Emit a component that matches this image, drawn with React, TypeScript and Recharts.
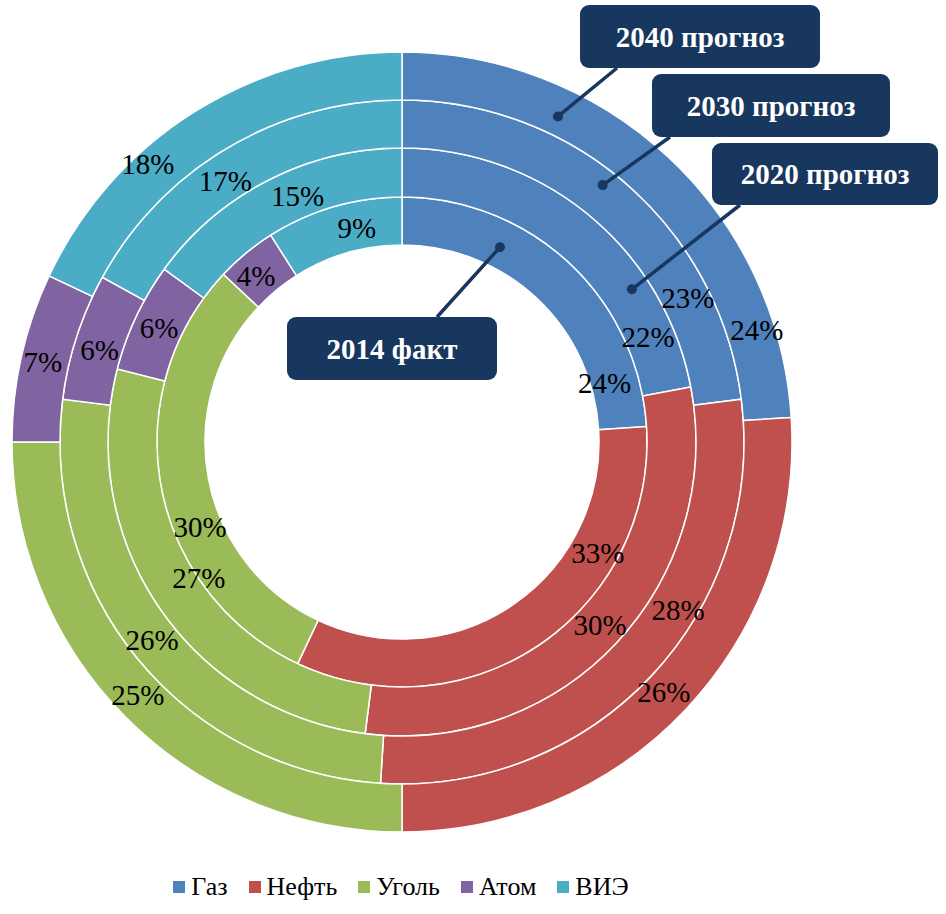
import React from 'react';
import { PieChart, Pie, Cell, Legend } from 'recharts';

// energy mix, share of total consumption (%)
const fuels = ['Газ', 'Нефть', 'Уголь', 'Атом', 'ВИЭ'];
const share2014 = [24, 33, 30, 4, 9];
const share2020 = [22, 30, 27, 6, 15];
const share2030 = [23, 28, 26, 6, 17];
const share2040 = [24, 26, 25, 7, 18];
const ringTitles = ['2014 факт', '2020 прогноз', '2030 прогноз', '2040 прогноз'];

const fuelColors = ['#4F81BD', '#C0504D', '#9BBB59', '#8064A2', '#4BACC6'];
const navy = '#17375E';
const serif = 'Liberation Serif, Times New Roman, DejaVu Serif, serif';

const W = 946;
const H = 914;
const CX = 402;
const CY = 442;
const ringRadii = [
  { inner: 197, outer: 245 },
  { inner: 245, outer: 294 },
  { inner: 294, outer: 342 },
  { inner: 342, outer: 390 },
];

// label nudges per ring: [clockwise shift from slice middle in degrees, radial shift px]
const labelNudge = [
  [[30.6, -10], [-26.3, 4], [-12, -2], [-1.7, 0], [4.3, -2]],
  [[27.3, -2], [-0.5, 0], [0.4, -25], [0, -1], [4, -2]],
  [[21.9, 2], [-11.9, 5], [1.2, 1], [-1.1, -2], [-3.5, -3]],
  [[29.3, 6], [0.5, -4], [1.2, 0], [0, 2], [-10, 11]],
];

// callouts: box rect, where the leader leaves the box, angle (clockwise from top) of the dot on the ring
const callouts = [
  { ring: 0, box: { x: 287, y: 317, w: 210, h: 63 }, from: [437, 317], angle: 26.7, r: 218 },
  { ring: 1, box: { x: 712, y: 143, w: 226, h: 62 }, from: [740, 205], angle: 56.4, r: 276 },
  { ring: 2, box: { x: 652, y: 74, w: 238, h: 63 }, from: [670, 137], angle: 38, r: 326 },
  { ring: 3, box: { x: 580, y: 5, w: 240, h: 63 }, from: [617, 68], angle: 25.6, r: 361 },
];

const series = [share2014, share2020, share2030, share2040].map((vals) =>
  fuels.map((name, i) => ({ name, value: vals[i] }))
);

const RAD = Math.PI / 180;

const makeLabel = (ring: number) => (props: any) => {
  const { cx, cy, midAngle, innerRadius, outerRadius, index, value } = props;
  const [shift, dr] = labelNudge[ring][index];
  const a = (midAngle - shift) * RAD;
  const r = (innerRadius + outerRadius) / 2 + dr;
  const x = cx + r * Math.cos(a);
  const y = cy - r * Math.sin(a);
  return (
    <text x={x} y={y} textAnchor="middle" dominantBaseline="central" style={{ fontFamily: serif }} fontSize={29} fill="#000">
      {value}%
    </text>
  );
};

const LegendBox = () => (
  <div style={{ display: 'flex', justifyContent: 'center', alignItems: 'center', fontFamily: serif, fontSize: 26, color: '#000' }}>
    {fuels.map((f, i) => (
      <span key={f} style={{ display: 'flex', alignItems: 'center', marginRight: i < fuels.length - 1 ? 21 : 0 }}>
        <span style={{ display: 'inline-block', width: 12, height: 12, background: fuelColors[i], marginRight: 6 }} />
        {f}
      </span>
    ))}
  </div>
);

const Callouts = () => (
  <svg width={W} height={H} style={{ position: 'absolute', left: 0, top: 0, pointerEvents: 'none' }}>
    {callouts.map((c) => {
      const dx = CX + c.r * Math.sin(c.angle * RAD);
      const dy = CY - c.r * Math.cos(c.angle * RAD);
      return (
        <g key={c.ring}>
          <line x1={c.from[0]} y1={c.from[1]} x2={dx} y2={dy} stroke={navy} strokeWidth={3.5} />
          <circle cx={dx} cy={dy} r={5} fill={navy} />
          <rect x={c.box.x} y={c.box.y} width={c.box.w} height={c.box.h} rx={9} fill={navy} />
          <text
            x={c.box.x + c.box.w / 2}
            y={c.box.y + c.box.h / 2}
            textAnchor="middle"
            dominantBaseline="central"
            style={{ fontFamily: serif }}
            fontWeight="bold"
            fontSize={29}
            fill="#fff"
          >
            {ringTitles[c.ring]}
          </text>
        </g>
      );
    })}
  </svg>
);

export default function App() {
  return (
    <div style={{ position: 'absolute', left: 0, top: 0, width: W, height: H, background: '#fff', fontFamily: serif }}>
      <PieChart width={W} height={H} margin={{ top: 0, right: 0, bottom: 0, left: 0 }}>
        {series.map((data, k) => (
          <Pie
            key={k}
            data={data}
            dataKey="value"
            nameKey="name"
            cx={CX}
            cy={CY}
            innerRadius={ringRadii[k].inner}
            outerRadius={ringRadii[k].outer}
            startAngle={90}
            endAngle={-270}
            stroke="#fff"
            strokeWidth={1.5}
            label={makeLabel(k)}
            labelLine={false}
            isAnimationActive={false}
          >
            {data.map((d, i) => (
              <Cell key={d.name} fill={fuelColors[i]} />
            ))}
          </Pie>
        ))}
        <Legend content={<LegendBox />} wrapperStyle={{ left: 0, top: 872, width: 802, height: 36 }} />
      </PieChart>
      <Callouts />
    </div>
  );
}
